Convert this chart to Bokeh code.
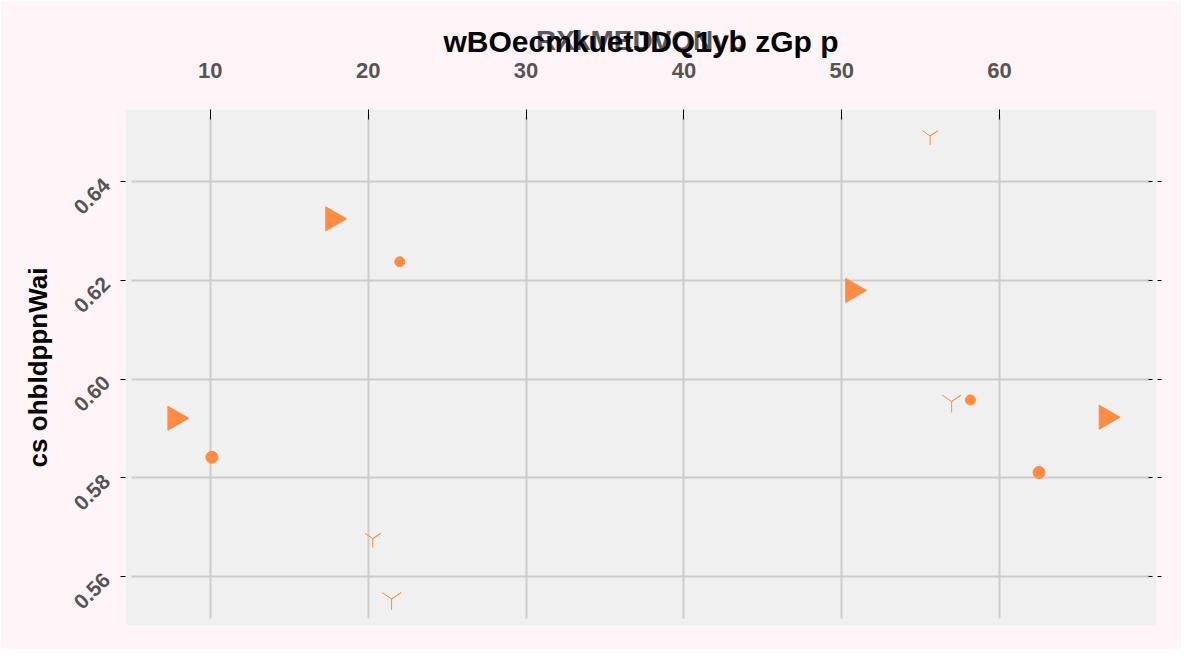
import math
from bokeh.plotting import figure
from bokeh.models import Range1d, LinearAxis, FixedTicker, NumeralTickFormatter, CustomJSTickFormatter
from bokeh.embed import file_html
from bokeh.resources import INLINE

# ---- data ----
x_ticks = [10, 20, 30, 40, 50, 60]
y_ticks = [0.56, 0.58, 0.60, 0.62, 0.64]

tri_x = [17.75, 50.69, 7.75, 66.75]
tri_y = [0.6325, 0.6180, 0.5921, 0.5923]

circ_x = [22.0, 10.1, 58.15, 62.5]
circ_y = [0.6238, 0.5842, 0.5958, 0.5811]
circ_size = [10, 12, 10, 12]

ymk_x = [55.6, 56.96, 20.29, 21.48]
ymk_y = [0.6493, 0.5955, 0.5677, 0.5555]
ymk_size = [18, 22, 18, 22]

title_text = "wBOecmkuetJDQ1yb zGp p"
x_label = "RXkMEDVQNyb"
y_label = "cs ohbldppnWai"

ORANGE = "#ff8c42"
FONT = "Liberation Sans"

p = figure(width=1181, height=649, output_backend="svg", toolbar_location=None,
           x_range=Range1d(4.625, 69.94), y_range=Range1d(0.5501, 0.65465),
           x_axis_location="above", title=title_text,
           min_border_left=125, min_border_top=109, min_border_right=25, min_border_bottom=24)

p.border_fill_color = "#fff5f8"
p.background_fill_color = "#f0f0f0"
p.outline_line_color = None

p.title.align = "center"
p.title.text_font = FONT
p.title.text_font_size = "30px"
p.title.text_font_style = "bold"
p.title.text_color = "black"
p.title.standoff = -72

xa = p.xaxis[0]
xa.ticker = FixedTicker(ticks=x_ticks)
xa.axis_label = x_label
xa.axis_label_text_font = FONT
xa.axis_label_text_font_size = "28px"
xa.axis_label_text_font_style = "bold"
xa.axis_label_text_color = "#5a5a5a"
xa.axis_label_standoff = 4
xa.major_label_text_font = FONT
xa.major_label_text_font_size = "22px"
xa.major_label_text_font_style = "bold"
xa.major_label_text_color = "#555555"
xa.major_label_standoff = 32
xa.major_tick_in = 16
xa.major_tick_out = 0
xa.major_tick_line_dash = "10 6"
xa.major_tick_line_color = "black"
xa.minor_tick_line_color = None
xa.axis_line_color = None

ya = p.yaxis[0]
ya.ticker = FixedTicker(ticks=y_ticks)
ya.formatter = NumeralTickFormatter(format="0.00")
ya.axis_label = y_label
ya.axis_label_text_font = FONT
ya.axis_label_text_font_size = "26px"
ya.axis_label_text_font_style = "bold"
ya.axis_label_text_color = "black"
ya.axis_label_standoff = 12
ya.major_label_text_font = FONT
ya.major_label_text_font_size = "21px"
ya.major_label_text_font_style = "bold"
ya.major_label_text_color = "#555555"
ya.major_label_orientation = math.pi / 4
ya.major_label_standoff = 14
ya.major_tick_in = 0
ya.major_tick_out = 5
ya.major_tick_line_color = "black"
ya.minor_tick_line_color = None
ya.axis_line_color = None

ra = LinearAxis(ticker=FixedTicker(ticks=y_ticks),
                formatter=CustomJSTickFormatter(code="return ''"),
                major_tick_in=10, major_tick_out=5, major_tick_line_color="black",
                major_tick_line_dash="4 5",
                minor_tick_line_color=None, axis_line_color=None, major_label_standoff=0)
p.add_layout(ra, "right")

p.xgrid.ticker = FixedTicker(ticks=x_ticks)
p.ygrid.ticker = FixedTicker(ticks=y_ticks)
p.xgrid.cross_bounds = (0.55149, 0.65347)
p.ygrid.cross_bounds = (5.0, 69.56)
p.grid.grid_line_color = "#cccccc"
p.grid.grid_line_width = 2

p.scatter(x=tri_x, y=tri_y, marker="triangle", size=24, angle=-math.pi / 2,
          fill_color=ORANGE, line_color=ORANGE)
p.scatter(x=circ_x, y=circ_y, marker="circle", size=circ_size,
          fill_color=ORANGE, line_color=ORANGE)
p.scatter(x=ymk_x, y=ymk_y, marker="y", size=ymk_size, line_color=ORANGE, line_width=1)

open("out.html", "w").write(file_html(p, INLINE))
